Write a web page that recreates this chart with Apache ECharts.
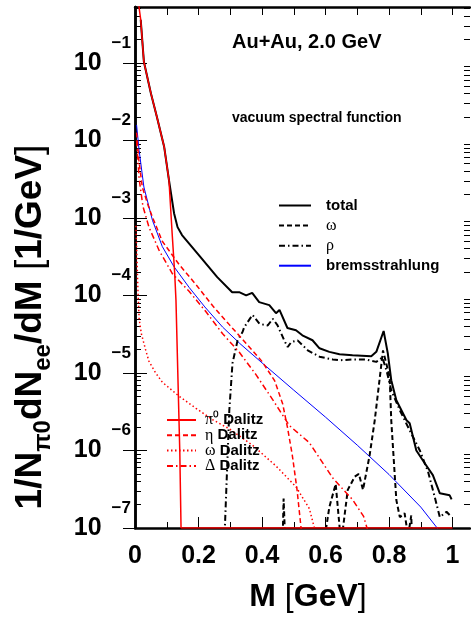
<!DOCTYPE html>
<html>
<head>
<meta charset="utf-8">
<script src="https://cdn.jsdelivr.net/npm/echarts@6/dist/echarts.min.js"></script>
<style>
html, body { margin: 0; padding: 0; background: #fff; }
#draw { width: 471px; height: 618px; }
</style>
</head>
<body>
<div id="draw"></div>
<script>
// dilepton mass spectra, pairs of [M (GeV), 1/N dN/dM (1/GeV)]
var total = [[0.018, 3.6e-1], [0.028, 1.03e-1], [0.050, 4.06e-2], [0.069, 2.0e-2], [0.092, 8.2e-3],
  [0.107, 3.06e-3], [0.123, 1.15e-3], [0.134, 7.6e-4], [0.148, 6.0e-4], [0.207, 3.1e-4],
  [0.259, 1.72e-4], [0.306, 1.1e-4], [0.328, 1.1e-4], [0.350, 1.0e-4], [0.369, 1.08e-4],
  [0.391, 8.2e-5], [0.423, 7.5e-5], [0.444, 5.9e-5], [0.455, 6.5e-5], [0.480, 3.8e-5],
  [0.507, 3.55e-5], [0.527, 3.06e-5], [0.559, 2.64e-5], [0.581, 2.08e-5], [0.612, 1.87e-5],
  [0.644, 1.74e-5], [0.685, 1.69e-5], [0.744, 1.64e-5], [0.760, 1.87e-5], [0.783, 3.48e-5],
  [0.796, 1.8e-5], [0.807, 8.05e-6], [0.823, 4.45e-6], [0.855, 2.45e-6], [0.865, 2.24e-6],
  [0.886, 1.0e-6], [0.913, 6.8e-7], [0.938, 4.8e-7], [0.960, 2.8e-7], [0.991, 2.64e-7], [0.997, 2.34e-7]];

var omega = [[0.45, 1e-8], [0.463, 3.2e-8], [0.468, 2.4e-7], [0.476, 3.2e-8], [0.59, 3.2e-8],
  [0.602, 1e-7], [0.612, 1.86e-7], [0.632, 3.7e-7], [0.649, 6.3e-8], [0.670, 3.1e-7],
  [0.692, 4.6e-7], [0.705, 5.0e-7], [0.718, 3.1e-7], [0.739, 8.7e-7], [0.755, 2.45e-6],
  [0.781, 1.95e-5], [0.802, 8.9e-6], [0.807, 2.45e-6], [0.823, 2.3e-7], [0.834, 1.38e-7],
  [0.849, 1.55e-7], [0.860, 7.9e-8], [0.870, 1.45e-7], [0.875, 3.2e-8], [0.88, 1e-8]];

var rho = [[0.27, 2.5e-8], [0.283, 1.0e-7], [0.297, 3.3e-6], [0.307, 1.33e-5], [0.316, 1.95e-5],
  [0.323, 2.63e-5], [0.339, 3.4e-5], [0.344, 3.9e-5], [0.370, 5.6e-5], [0.392, 4.3e-5],
  [0.418, 4.1e-5], [0.434, 5.0e-5], [0.449, 4.1e-5], [0.470, 2.63e-5], [0.481, 2.16e-5],
  [0.492, 2.5e-5], [0.512, 2.63e-5], [0.544, 1.96e-5], [0.581, 1.62e-5], [0.623, 1.49e-5],
  [0.644, 1.46e-5], [0.686, 1.49e-5], [0.728, 1.49e-5], [0.760, 1.39e-5], [0.779, 1.58e-5],
  [0.792, 1.08e-5], [0.807, 6.0e-6], [0.834, 3.3e-6], [0.865, 1.82e-6], [0.897, 1.0e-6],
  [0.923, 5.3e-7], [0.944, 2.5e-7], [0.960, 1.38e-7], [0.981, 1.62e-7], [0.997, 1.38e-7]];

var brems = [[0.005, 1.58e-2], [0.013, 7.4e-3], [0.028, 2.5e-3], [0.055, 9.3e-4], [0.086, 4.27e-4],
  [0.123, 2.34e-4], [0.171, 1.26e-4], [0.22, 7.1e-5], [0.276, 3.9e-5], [0.33, 2.4e-5],
  [0.40, 1.35e-5], [0.50, 6.0e-6], [0.60, 2.69e-6], [0.70, 1.17e-6], [0.80, 4.9e-7],
  [0.90, 1.86e-7], [0.95, 1.02e-7], [0.97, 7.9e-8]];

var pi0Dalitz = [[0.008, 0.79], [0.0126, 0.525], [0.018, 3.6e-1], [0.028, 1.03e-1], [0.050, 4.06e-2],
  [0.069, 2.0e-2], [0.092, 8.2e-3], [0.107, 3.06e-3], [0.117, 6.3e-4], [0.125, 1.93e-4],
  [0.129, 8.7e-5], [0.141, 1.0e-6], [0.145, 1.0e-7], [1.0, 1.0e-7]];

var etaDalitz = [[0.005, 1.26e-2], [0.012, 5.6e-3], [0.023, 2.5e-3], [0.04, 1.5e-3], [0.055, 1.02e-3],
  [0.086, 5.0e-4], [0.139, 2.5e-4], [0.192, 1.38e-4], [0.244, 7.4e-5], [0.297, 4.2e-5],
  [0.35, 2.4e-5], [0.40, 1.41e-5], [0.44, 7.9e-6], [0.465, 4.0e-6], [0.48, 2.0e-6],
  [0.495, 8.9e-7], [0.51, 3.2e-7], [0.523, 1.0e-7], [0.53, 2.5e-8]];

var omegaDalitz = [[0.003, 7.9e-4], [0.006, 3.2e-4], [0.009, 1.26e-4], [0.013, 5.0e-5], [0.02, 3.2e-5],
  [0.034, 1.95e-5], [0.044, 1.41e-5], [0.065, 1.0e-5], [0.086, 7.6e-6], [0.139, 5.0e-6],
  [0.192, 3.5e-6], [0.244, 2.5e-6], [0.297, 1.9e-6], [0.37, 1.17e-6], [0.444, 6.3e-7],
  [0.507, 3.4e-7], [0.549, 1.78e-7], [0.565, 1.0e-7], [0.575, 3.2e-8]];

var deltaDalitz = [[0.005, 1.0e-2], [0.013, 3.2e-3], [0.025, 1.41e-3], [0.044, 7.6e-4], [0.076, 3.8e-4],
  [0.118, 1.9e-4], [0.171, 1.12e-4], [0.223, 6.2e-5], [0.276, 3.2e-5], [0.328, 1.86e-5],
  [0.381, 9.5e-6], [0.434, 4.5e-6], [0.486, 2.1e-6], [0.549, 1.26e-6], [0.623, 4.4e-7],
  [0.686, 2.3e-7], [0.72, 1.41e-7], [0.745, 6.3e-8]];

// axis ticks
var xLabelTicks = [0, 0.2, 0.4, 0.6, 0.8, 1];
var xMinorTicks = [0.1, 0.3, 0.5, 0.7, 0.9];
var xTopTicks = [0, 0.1, 0.2, 0.3, 0.4, 0.5, 0.6, 0.7, 0.8, 0.9, 1];
var yDecades = [1e-7, 1e-6, 1e-5, 1e-4, 1e-3, 1e-2, 1e-1];
var yMult = [2, 3, 4, 5, 6, 7, 8, 9];

var yMax = 0.525;
var yMinor = [];
yDecades.forEach(function(d) {
	yMult.forEach(function(k) {
		if (k * d <= yMax) yMinor.push(k * d);
	});
});

var FONT = 'Liberation Sans';
var GREEK = 'Liberation Serif';

var myChart = echarts.init(document.getElementById('draw'), null, {renderer: 'canvas'});

function curve(name, data, color, width, type) {
	return {
		name: name,
		type: 'line',
		data: data,
		symbol: 'none',
		showSymbol: false,
		silent: true,
		animation: false,
		itemStyle: { color: color },
		lineStyle: { color: color, width: width, type: type }
	};
}

function yAx(pos, ticks, len, labels) {
	return {
		type: 'log',
		logBase: 10,
		min: 1e-7,
		max: yMax,
		position: pos,
		axisLine: { show: labels, lineStyle: { color: '#000', width: 2.5 } },
		axisTick: { show: true, inside: true, length: len, customValues: ticks,
			lineStyle: { color: '#000', width: 1 } },
		splitLine: { show: false },
		axisLabel: labels && pos == 'left' ? {
			show: true,
			customValues: yDecades,
			margin: 4,
			formatter: function(v) {
				return '{b|10}{e|\u2212' + Math.abs(Math.round(Math.log10(v))) + '}';
			},
			rich: {
				b: { fontFamily: FONT, fontWeight: 'bold', fontSize: 25, lineHeight: 57, color: '#000' },
				e: { fontFamily: FONT, fontWeight: 'bold', fontSize: 17, verticalAlign: 'top',
					padding: [0, 0, 0, 10], color: '#000' }
			}
		} : { show: false }
	};
}

function xAx(pos, ticks, len, labels, line) {
	return {
		type: 'value',
		min: 0,
		max: 1.055,
		position: pos,
		axisLine: { show: line, onZero: false, lineStyle: { color: '#000', width: 2.5 } },
		axisTick: { show: true, inside: true, length: len, customValues: ticks,
			lineStyle: { color: '#000', width: 1 } },
		splitLine: { show: false },
		axisLabel: labels ? {
			show: true,
			customValues: xLabelTicks,
			margin: 16,
			fontFamily: FONT,
			fontWeight: 'bold',
			fontSize: 25,
			color: '#000',
			formatter: function(v) {
				return (v == 0 || v == 1) ? String(v) : v.toFixed(1);
			}
		} : { show: false }
	};
}

var legendRich = {
	b: { fontFamily: FONT, fontWeight: 'bold', fontSize: 15, lineHeight: 14, color: '#000' },
	g: { fontFamily: GREEK, fontSize: 16, lineHeight: 14, color: '#000' }
};

option = {
	backgroundColor: '#fff',
	animation: false,
	grid: { left: 135, right: 1, top: 7, bottom: 90, containLabel: false },
	xAxis: [
		xAx('bottom', xLabelTicks, 11, true, true),
		xAx('bottom', xMinorTicks, 6, false, false),
		xAx('top', xTopTicks, 8, false, true)
	],
	yAxis: [
		yAx('left', yDecades, 12, true),
		yAx('left', yMinor, 6, false),
		yAx('right', yDecades, 12, true),
		yAx('right', yMinor, 6, false)
	],
	legend: [{
		data: ['total', 'ω', 'ρ', 'bremsstrahlung'],
		orient: 'vertical',
		left: 278,
		top: 198,
		padding: 0,
		itemWidth: 32,
		itemHeight: 14,
		itemGap: 4.4,
		selectedMode: false,
		itemStyle: { opacity: 0 },
		formatter: function(n) {
			return (n == 'ω' || n == 'ρ') ? '{g|' + n + '}' : '{b|' + n + '}';
		},
		textStyle: { padding: [0, 0, 0, 10], rich: legendRich }
	}, {
		data: ['π⁰ Dalitz', 'η Dalitz', 'ω Dalitz', 'Δ Dalitz'],
		orient: 'vertical',
		left: 166,
		top: 412,
		padding: 0,
		itemWidth: 29,
		itemHeight: 12,
		itemGap: -0.7,
		selectedMode: false,
		itemStyle: { opacity: 0 },
		formatter: function(n) {
			var p = n.split(' ');
			return '{g|' + p[0] + '}{b| ' + p[1] + '}';
		},
		textStyle: { padding: [0, 0, 0, 4], rich: legendRich }
	}],
	graphic: [{
		type: 'text',
		x: 31,
		y: 327,
		rotation: Math.PI / 2,
		style: {
			text: '{b|1/N}{s|π0}{b|dN}{s|ee}{b|/dM }{k|[}{b|1/GeV}{k|]}',
			align: 'center',
			verticalAlign: 'middle',
			rich: {
				b: { fontFamily: FONT, fontWeight: 'bold', fontSize: 37, lineHeight: 48, fill: '#000' },
				s: { fontFamily: FONT, fontWeight: 'bold', fontSize: 24, verticalAlign: 'bottom', fill: '#000' },
				k: { fontFamily: FONT, fontSize: 37, lineHeight: 48, fill: '#000' }
			}
		}
	}, {
		type: 'text',
		x: 308,
		y: 597,
		style: {
			text: '{b|M }{k|[}{b|GeV}{k|]}',
			align: 'center',
			verticalAlign: 'middle',
			rich: {
				b: { fontFamily: FONT, fontWeight: 'bold', fontSize: 32, fill: '#000' },
				k: { fontFamily: FONT, fontSize: 32, fill: '#000' }
			}
		}
	}, {
		type: 'text',
		x: 232,
		y: 42,
		style: { text: 'Au+Au, 2.0 GeV', font: 'bold 20px "Liberation Sans"', fill: '#000',
			align: 'left', verticalAlign: 'middle' }
	}, {
		type: 'text',
		x: 232,
		y: 118,
		style: { text: 'vacuum spectral function', font: 'bold 14px "Liberation Sans"', fill: '#000',
			align: 'left', verticalAlign: 'middle' }
	}],
	series: [
		curve('bremsstrahlung', brems, '#0000ff', 1, 'solid'),
		curve('ρ', rho, '#000', 2, [6, 3, 1.5, 3]),
		curve('ω', omega, '#000', 2, [5, 3]),
		curve('η Dalitz', etaDalitz, '#ff0000', 1.5, [5, 3]),
		curve('Δ Dalitz', deltaDalitz, '#ff0000', 1.5, [6, 3, 1.5, 3]),
		curve('ω Dalitz', omegaDalitz, '#ff0000', 1.5, [1.5, 2.5]),
		curve('total', total, '#000', 2, 'solid'),
		curve('π⁰ Dalitz', pi0Dalitz, '#ff0000', 1.5, 'solid')
	]
};
myChart.setOption(option);
</script>
</body>
</html>
